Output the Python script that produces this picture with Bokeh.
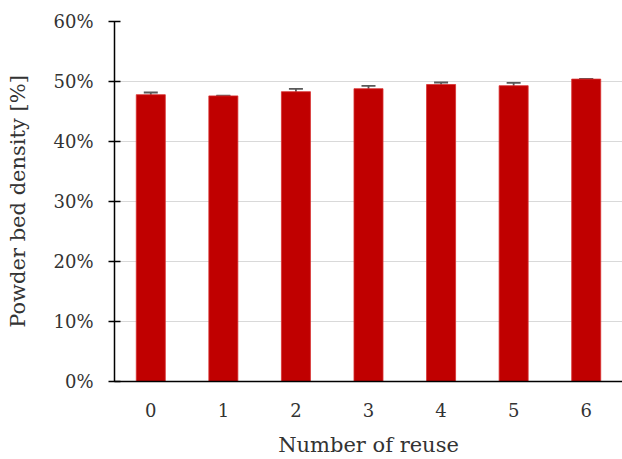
from bokeh.plotting import figure
from bokeh.models import ColumnDataSource, Range1d, FixedTicker, PrintfTickFormatter, Whisker, TeeHead
from bokeh.embed import file_html
from bokeh.resources import INLINE

reuse = [0, 1, 2, 3, 4, 5, 6]
density = [47.8, 47.6, 48.3, 48.8, 49.5, 49.3, 50.4]
err = [0.37, 0.05, 0.47, 0.47, 0.33, 0.47, 0.05]
y_ticks = [0, 10, 20, 30, 40, 50, 60]

src = ColumnDataSource(dict(
    x=reuse, top=density,
    upper=[d + e for d, e in zip(density, err)],
    lower=[d - e for d, e in zip(density, err)],
))

p = figure(width=622, height=459, output_backend="svg", toolbar_location=None,
           x_range=Range1d(-0.5, 6.5), y_range=Range1d(0, 60),
           min_border_left=114, min_border_right=0, min_border_top=21, min_border_bottom=77)
p.outline_line_color = None
p.xgrid.grid_line_color = None
p.ygrid.grid_line_color = "#d9d9d9"
p.ygrid.grid_line_width = 1.2

p.vbar(x="x", top="top", width=0.4, source=src, fill_color="#C00000", line_color="#d83030", line_width=0.8)

w = Whisker(base="x", upper="upper", lower="lower", source=src, line_color="#595959", line_width=1.8,
            upper_head=TeeHead(size=14, line_color="#595959", line_width=1.8),
            lower_head=TeeHead(size=14, line_color="#595959", line_width=1.8))
p.add_layout(w)

font = "DejaVu Serif"
p.yaxis.ticker = FixedTicker(ticks=y_ticks)
p.yaxis.formatter = PrintfTickFormatter(format="%d%%")
p.xaxis.ticker = FixedTicker(ticks=reuse)
for ax in (p.xaxis[0], p.yaxis[0]):
    ax.axis_line_color = "black"
    ax.axis_line_width = 1.5
    ax.major_label_text_font = font
    ax.major_label_text_font_size = "18px"
    ax.major_label_text_color = "#333333"
    ax.axis_label_text_font = font
    ax.axis_label_text_font_size = "21px"
    ax.axis_label_text_font_style = "normal"
    ax.axis_label_text_color = "#333333"
    ax.minor_tick_line_color = None
p.yaxis.major_tick_in = 6
p.yaxis.major_tick_out = 6
p.yaxis.major_tick_line_color = "black"
p.yaxis.major_tick_line_width = 1.5
p.yaxis.major_label_standoff = 15
p.xaxis.major_tick_line_color = None
p.xaxis.major_tick_in = 0
p.xaxis.major_tick_out = 0
p.xaxis.major_label_standoff = 21
p.xaxis.axis_label = "Number of reuse"
p.yaxis.axis_label = "Powder bed density [%]"
p.xaxis.axis_label_standoff = 13
p.yaxis.axis_label_standoff = 20

open("out.html", "w").write(file_html(p, INLINE))
